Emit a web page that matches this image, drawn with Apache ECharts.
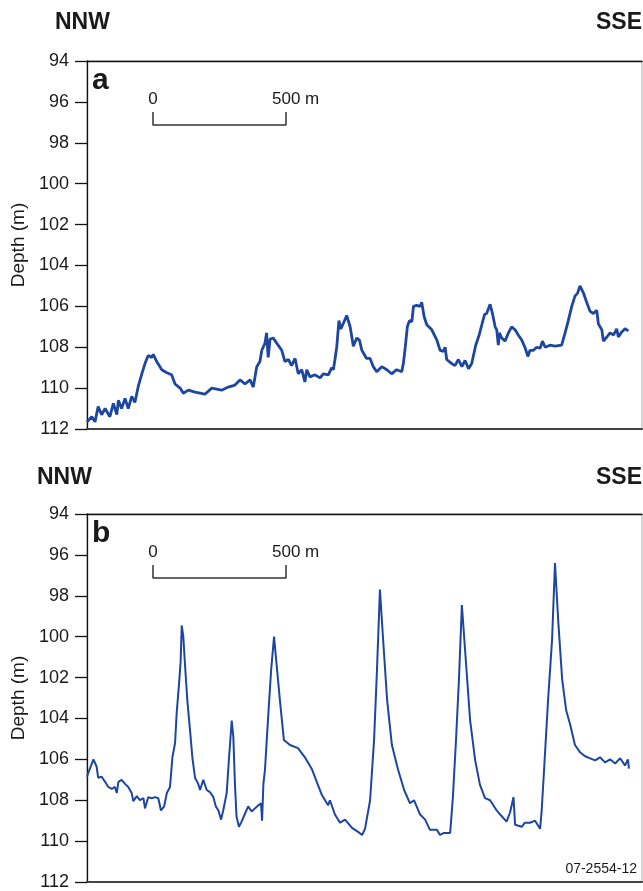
<!DOCTYPE html>
<html>
<head>
<meta charset="utf-8">
<script src="https://cdn.jsdelivr.net/npm/echarts@6/dist/echarts.min.js"></script>
<style>
  html, body { margin: 0; padding: 0; background: #fff; }
  #chart { width: 643px; height: 891px; }
</style>
</head>
<body>
<div id="chart"></div>
<script>
// Along-track distance (m, 0 = start of scale bar) and seafloor depth (m)
const distA = [-248,-230,-218,-206,-193,-180,-162,-149,-136,-130,-118,-105,-93,-80,-68,-55,-42,-30,-18,-5,1,14,33,52,70,83,102,114,133,158,195,221,258,283,308,327,346,365,377,390,402,409,421,427,433,440,452,465,484,496,509,521,534,546,559,571,578,590,609,628,640,659,672,678,684,691,699,706,715,728,741,753,766,776,785,803,816,828,841,860,879,897,916,935,941,947,956,964,973,979,991,1004,1010,1019,1029,1048,1067,1079,1092,1098,1104,1123,1135,1148,1161,1173,1186,1198,1204,1213,1226,1236,1246,1254,1267,1276,1286,1292,1298,1302,1311,1323,1336,1348,1361,1373,1386,1398,1409,1417,1430,1442,1455,1464,1474,1492,1511,1536,1549,1561,1574,1586,1596,1605,1618,1630,1643,1655,1668,1674,1687,1693,1706,1718,1731,1743,1749,1762,1774,1787];
const depthA = [111.65,111.4,111.65,110.9,111.3,111.0,111.4,110.75,111.3,110.6,111.0,110.5,111.0,110.4,110.7,109.9,109.3,108.8,108.4,108.5,108.35,108.7,109.1,109.25,109.35,109.8,110.0,110.25,110.1,110.2,110.3,110.0,110.1,109.95,109.85,109.6,109.8,109.6,109.95,108.95,108.7,108.15,107.8,107.3,108.5,107.6,107.55,107.8,108.15,108.7,108.6,108.9,108.55,109.3,109.1,109.7,109.1,109.45,109.35,109.5,109.3,109.35,109.0,109.1,108.6,107.95,106.7,107.1,106.85,106.45,107.0,107.95,107.55,107.65,108.15,108.55,108.55,108.95,109.2,108.95,109.1,109.3,109.1,109.2,108.8,108.15,107.0,106.7,106.75,106.0,105.95,106.0,105.8,106.5,106.9,107.15,107.65,108.15,108.2,108.0,108.6,108.8,108.9,108.6,108.95,108.65,109.05,108.8,108.8,107.9,107.4,106.9,106.4,106.35,105.9,106.35,107.0,107.15,107.9,107.3,107.55,107.7,107.3,107.0,107.15,107.4,107.65,108.0,108.45,108.15,108.15,108.0,108.05,107.7,108.0,107.9,107.95,107.9,107.3,106.7,106.0,105.5,105.35,105.0,105.35,105.8,106.25,106.35,106.2,106.85,107.15,107.7,107.5,107.3,107.4,107.1,107.5,107.25,107.1,107.2];

const distB = [-248,-237,-224,-212,-206,-193,-180,-168,-155,-143,-136,-130,-118,-105,-93,-80,-74,-61,-49,-36,-30,-18,-5,8,20,30,42,52,64,73,83,89,98,104,108,114,120,129,139,148,158,170,177,189,202,214,227,236,246,256,264,277,286,296,302,308,314,323,333,346,358,371,383,396,406,410,415,421,433,444,455,477,492,515,545,571,598,620,635,658,665,684,703,722,748,771,786,797,816,831,842,853,865,880,898,921,944,966,981,1004,1023,1041,1067,1079,1094,1117,1127,1139,1150,1161,1173,1192,1211,1229,1248,1267,1292,1305,1329,1342,1355,1361,1386,1398,1417,1436,1455,1461,1470,1485,1500,1511,1523,1538,1553,1568,1586,1605,1624,1643,1662,1680,1699,1718,1737,1756,1774,1785,1789];
const depthB = [106.85,106.45,106.0,106.35,106.9,106.85,107.1,107.35,107.45,107.35,107.65,107.1,107.0,107.2,107.35,107.65,108.05,107.8,108.0,107.9,108.4,107.85,107.9,107.85,107.9,108.5,108.3,107.65,107.35,105.9,105.2,103.75,102.3,101.2,99.45,100.0,101.3,103.1,104.55,105.9,106.9,107.2,107.5,107.0,107.5,107.6,107.85,108.3,108.5,108.95,108.5,107.65,105.9,104.1,104.9,107.2,108.8,109.3,109.05,108.65,108.3,108.55,108.4,108.25,108.15,109.0,107.2,106.5,103.9,101.65,100.0,103.1,105.05,105.3,105.45,105.9,106.5,107.25,107.75,108.25,108.0,108.7,109.1,108.95,109.35,109.55,109.7,109.4,108.0,105.05,101.6,97.7,100.15,103.1,105.3,106.5,107.5,108.15,108.0,108.7,108.95,109.45,109.45,109.7,109.6,109.6,107.9,105.05,102.1,98.45,100.65,104.1,106.05,107.25,107.9,108.0,108.5,108.7,109.05,108.6,107.85,109.2,109.3,109.1,109.1,109.0,109.4,108.5,106.5,103.1,100.15,96.4,99.2,102.1,103.6,104.3,105.3,105.65,105.85,105.95,106.05,105.9,106.15,106.0,106.2,105.95,106.3,106.0,106.45];

// Depth axis ticks and along-track extent (m)
const depthTicks = [94, 96, 98, 100, 102, 104, 106, 108, 110, 112];
const distRange = [-248, 1838];

// Scale bar: 0 to 500 m
const scaleBar = [0, 500];
const scaleLabels = ['0', '500 m'];

const zip = (xs, ys) => xs.map((x, i) => [x, ys[i]]);

const LINE = '#1d46a0';
const FONT = '"Liberation Sans", Arial, Helvetica, sans-serif';

function xAxes(gi) {
  return [
    { gridIndex: gi, type: 'value', min: distRange[0], max: distRange[1], position: 'bottom',
      axisLine: { show: true, onZero: false, lineStyle: { color: '#444', width: 2 } },
      axisTick: { show: false }, axisLabel: { show: false }, splitLine: { show: false } },
    { gridIndex: gi, type: 'value', min: distRange[0], max: distRange[1], position: 'top',
      axisLine: { show: true, onZero: false, lineStyle: { color: '#111', width: 1.3 } },
      axisTick: { show: false }, axisLabel: { show: false }, splitLine: { show: false } }
  ];
}

function yAxis(gi) {
  return {
    gridIndex: gi, type: 'value', inverse: true, position: 'left',
    min: depthTicks[0], max: depthTicks[depthTicks.length - 1],
    interval: depthTicks[1] - depthTicks[0],
    name: 'Depth (m)', nameLocation: 'middle', nameGap: 57,
    nameTextStyle: { fontFamily: FONT, fontSize: 19, color: '#1a1a1a' },
    axisLine: { show: true, onZero: false, lineStyle: { color: '#111', width: 1.3 } },
    axisTick: { show: true, inside: false, length: 12, lineStyle: { color: '#111', width: 1.3 } },
    axisLabel: { margin: 18, fontFamily: FONT, fontSize: 18, color: '#1a1a1a' },
    splitLine: { show: false }
  };
}

function scaleSeries(xi, yi) {
  return {
    type: 'line', xAxisIndex: xi, yAxisIndex: yi, silent: true,
    symbol: 'none',
    lineStyle: { color: '#333', width: 1.5 },
    data: [[scaleBar[0], 96.5], [scaleBar[0], 97.13], [scaleBar[1], 97.13], [scaleBar[1], 96.5]],
    markPoint: {
      symbol: 'circle', symbolSize: 0, silent: true,
      data: [
        { coord: [scaleBar[0], 95.85], label: { show: true, formatter: scaleLabels[0], fontFamily: FONT, fontSize: 17, color: '#1a1a1a', align: 'center', verticalAlign: 'middle', offset: [0, 0] } },
        { coord: [scaleBar[1], 95.85], label: { show: true, formatter: scaleLabels[1], fontFamily: FONT, fontSize: 17, color: '#1a1a1a', align: 'left', verticalAlign: 'middle', offset: [-14, 0] } }
      ]
    }
  };
}

const chart = echarts.init(document.getElementById('chart'), null, { renderer: 'canvas' });
const gridBase = { left: 87, right: 1, height: 368, show: true, borderColor: '#aaa', borderWidth: 1,
  containLabel: false, outerBoundsMode: 'none' };
chart.setOption({
  backgroundColor: '#fff',
  animation: false,
  grid: [
    Object.assign({ top: 61 }, gridBase),
    Object.assign({ top: 514 }, gridBase)
  ],
  xAxis: [].concat(xAxes(0), xAxes(1)),
  yAxis: [yAxis(0), yAxis(1)],
  series: [
    { type: 'line', xAxisIndex: 0, yAxisIndex: 0, symbol: 'none',
      lineStyle: { color: LINE, width: 2.8 }, data: zip(distA, depthA) },
    { type: 'line', xAxisIndex: 2, yAxisIndex: 1, symbol: 'none',
      lineStyle: { color: LINE, width: 2 }, data: zip(distB, depthB) },
    scaleSeries(0, 0),
    scaleSeries(2, 1)
  ],
  graphic: [
    { type: 'text', left: 55, top: 11, style: { text: 'NNW', font: 'bold 23px ' + FONT, fill: '#1a1a1a' } },
    { type: 'text', right: 1, top: 11, style: { text: 'SSE', font: 'bold 23px ' + FONT, fill: '#1a1a1a' } },
    { type: 'text', left: 92, top: 66, style: { text: 'a', font: 'bold 30px ' + FONT, fill: '#1a1a1a' } },
    { type: 'text', left: 37, top: 466, style: { text: 'NNW', font: 'bold 23px ' + FONT, fill: '#1a1a1a' } },
    { type: 'text', right: 1, top: 466, style: { text: 'SSE', font: 'bold 23px ' + FONT, fill: '#1a1a1a' } },
    { type: 'text', left: 92, top: 519, style: { text: 'b', font: 'bold 30px ' + FONT, fill: '#1a1a1a' } },
    { type: 'text', right: 6, top: 862, style: { text: '07-2554-12', font: '14px ' + FONT, fill: '#1a1a1a' } }
  ]
});
</script>
</body>
</html>
